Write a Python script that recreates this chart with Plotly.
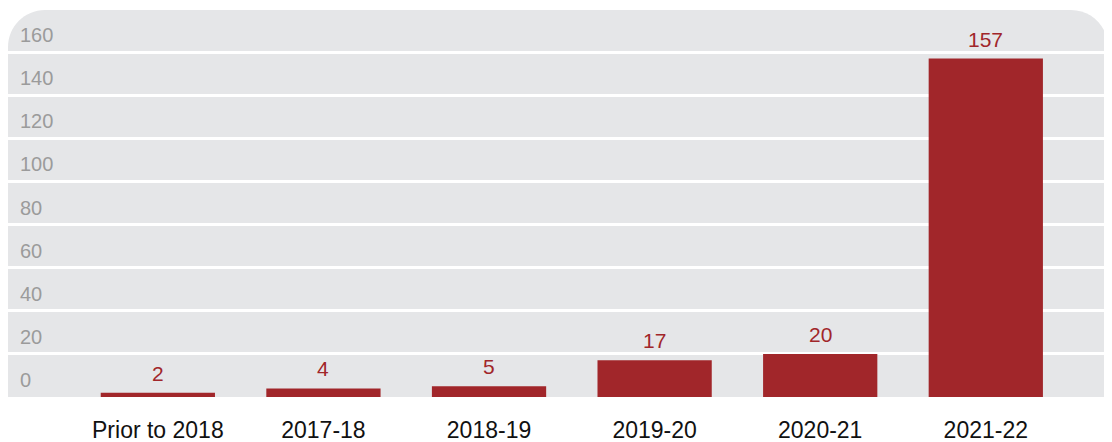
import plotly.graph_objects as go

categories = ["Prior to 2018", "2017-18", "2018-19", "2019-20", "2020-21", "2021-22"]
values = [2, 4, 5, 17, 20, 157]
y_ticks = [0, 20, 40, 60, 80, 100, 120, 140, 160]

BAR = "#a1262a"
BG = "#e5e6e8"

fig = go.Figure()
fig.add_trace(go.Bar(x=categories, y=values, marker=dict(color=BAR, line=dict(width=0)),
                     width=0.69, hoverinfo="skip"))

for c, v in zip(categories, values):
    fig.add_annotation(x=c, y=v, text=str(v), showarrow=False, yanchor="bottom",
                       yshift=6, font=dict(family="Liberation Sans", size=21, color=BAR))

# rounded-top background panel (paper coords of plot area)
W, H = 1100.0, 387.0
r = 37.0
rx, ry = r / W, r / H
k = 0.5523
path = (f"M 0,0 L 0,{1-ry} C 0,{1-ry+k*ry} {rx-k*rx},1 {rx},1 "
        f"L {1-rx},1 C {1-rx+k*rx},1 1,{1-ry+k*ry} 1,{1-ry} L 1,0 Z")
fig.add_shape(type="path", path=path, xref="paper", yref="paper",
              fillcolor=BG, line=dict(width=0), layer="below")

fig.update_layout(
    width=1104, height=434,
    margin=dict(l=0, r=4, t=2, b=45, pad=0),
    paper_bgcolor="white", plot_bgcolor="rgba(0,0,0,0)",
    showlegend=False,
    font=dict(family="Liberation Sans"),
)
fig.update_xaxes(range=[-0.905, 5.738], showgrid=False, zeroline=False, showline=False,
                 ticks="", ticklabelstandoff=17, automargin=False,
                 tickfont=dict(family="Liberation Sans", size=23, color="#111111"))
fig.update_yaxes(range=[0, 179.5], tickvals=y_ticks, showgrid=True, gridcolor="white",
                 gridwidth=3, zeroline=False, showline=False, ticks="", automargin=False,
                 ticklabelposition="inside top", ticklabelstandoff=9, ticklabelshift=-3,
                 tickfont=dict(family="Liberation Sans", size=20, color="#9b9b9b"))

fig.write_html("out.html")
